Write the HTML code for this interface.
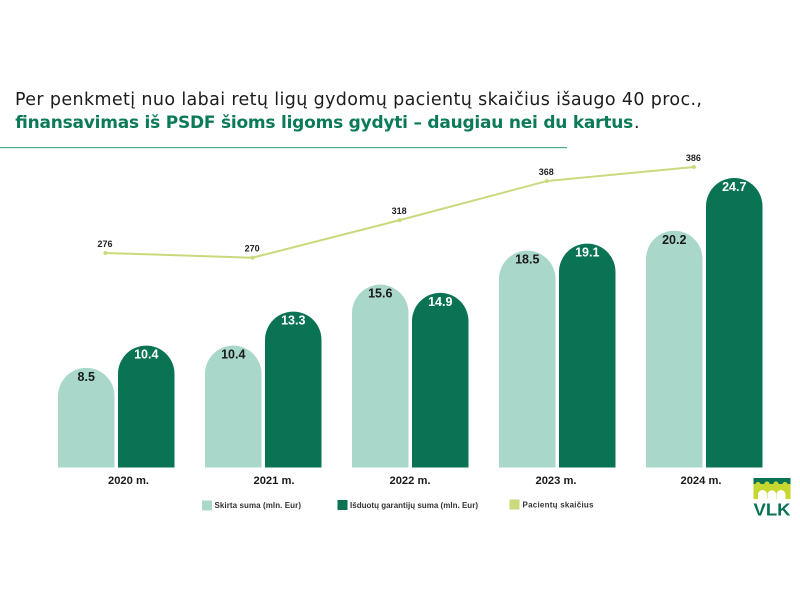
<!DOCTYPE html>
<html lang="lt">
<head>
<meta charset="utf-8">
<title>Pacientų skaičius ir finansavimas</title>
<style>
html,body{margin:0;padding:0;background:#fff;}
svg{display:block;}
text{font-family:"Liberation Sans",sans-serif;}
</style>
</head>
<body>
<svg id="chart" xmlns="http://www.w3.org/2000/svg" width="800" height="600" viewBox="0 0 800 600">
  <rect width="800" height="600" fill="#ffffff"/>
  <text x="15" y="105" font-size="17.500" textLength="687" lengthAdjust="spacing" fill="#1c1c1c" style="font-family:'DejaVu Sans',sans-serif">Per penkmetį nuo labai retų ligų gydomų pacientų skaičius išaugo 40 proc.,</text>
  <text x="15" y="128" font-size="17" font-weight="700" textLength="618" lengthAdjust="spacing" fill="#0b7a58" style="font-family:'DejaVu Sans',sans-serif">finansavimas iš PSDF šioms ligoms gydyti – daugiau nei du kartus</text>
  <text x="634" y="128" font-size="17.500" fill="#1c1c1c" style="font-family:'DejaVu Sans',sans-serif">.</text>
  <rect x="0" y="147" width="567" height="1.200" fill="#4fa98c"/>
  <g id="bars"></g>
  <g id="line"></g>
  <g id="labels"></g>
  <g>
    <rect x="202" y="500.500" width="10" height="10" fill="#a9d8cb"/>
    <text x="214.500" y="508" font-size="8" font-weight="700" textLength="86.500" lengthAdjust="spacing" fill="#333">Skirta suma (mln. Eur)</text>
    <rect x="337.500" y="500" width="10" height="10" fill="#0a7354"/>
    <text x="350" y="508" font-size="8" font-weight="700" textLength="128" lengthAdjust="spacing" fill="#333">Išduotų garantijų suma (mln. Eur)</text>
    <rect x="509.500" y="499.500" width="10" height="10" fill="#c9da7c"/>
    <text x="522.500" y="507.500" font-size="8" font-weight="700" textLength="71" lengthAdjust="spacing" fill="#333">Pacientų skaičius</text>
  </g>
  <g>
    <rect x="753.500" y="483" width="37" height="16" fill="#c6d72f"/>
    <rect x="753.500" y="478" width="37" height="6" fill="#0a7354"/>
    <circle cx="758" cy="484.500" r="2.600" fill="#c6d72f"/>
    <circle cx="767" cy="484" r="2.600" fill="#c6d72f"/>
    <circle cx="776" cy="484" r="2.600" fill="#c6d72f"/>
    <circle cx="785" cy="484.500" r="2.600" fill="#c6d72f"/>
    <path d="M758 499V494.500a4.500 4.500 0 0 1 9 0V499Z" fill="#ffffff"/>
    <path d="M767.500 499V494.500a4.300 4.300 0 0 1 8.600 0V499Z" fill="#ffffff"/>
    <path d="M776.500 499V494.500a4.500 4.500 0 0 1 9 0V499Z" fill="#ffffff"/>
    <text x="753.500" y="515.500" font-size="17.500" font-weight="700" textLength="37" lengthAdjust="spacingAndGlyphs" fill="#0a7354">VLK</text>
  </g>
</svg>
<script>
var categories = ["2020 m.", "2021 m.", "2022 m.", "2023 m.", "2024 m."];
var allocated = [8.5, 10.4, 15.6, 18.5, 20.2];
var guarantees = [10.4, 13.3, 14.9, 19.1, 24.7];
var patients = [276, 270, 318, 368, 386];

var NS = "http://www.w3.org/2000/svg";
var BASE_Y = 467.5, BAR_W = 56.5;
function xGroup(i) { return 58 + i * 147; }
function yBar(v) { return BASE_Y - v * 11.72; }
function xPoint(i) { return 105.5 + i * 147.1; }
function yPoint(v) { return 253 - (v - 276) * 0.782; }
function xCategoryLabel(i) {
  var nudge = [70.5, 69, 58, 57, 55];
  return xGroup(i) + nudge[i];
}
function make(tag, attrs, parent, text) {
  var el = document.createElementNS(NS, tag);
  for (var k in attrs) el.setAttribute(k, attrs[k]);
  if (text !== undefined) el.textContent = text;
  parent.appendChild(el);
  return el;
}
function barPath(x, top, w) {
  var r = Math.min(w / 2, BASE_Y - top);
  return "M" + x + " " + BASE_Y + "V" + (top + r) + "A" + r + " " + r + " 0 0 1 " + (x + w) + " " + (top + r) + "V" + BASE_Y + "Z";
}
var barsG = document.getElementById("bars");
var lineG = document.getElementById("line");
var labelsG = document.getElementById("labels");

categories.forEach(function (cat, i) {
  var x0 = xGroup(i), x1 = x0 + 60;
  var a = make("path", { d: barPath(x0, yBar(allocated[i]), BAR_W), fill: "#a9d8cb" }, barsG);
  
  
  var g = make("path", { d: barPath(x1, yBar(guarantees[i]), BAR_W), fill: "#0a7354" }, barsG);
  
  
  var ta = make("text", { x: x0 + BAR_W / 2, y: yBar(allocated[i]) + 13, "text-anchor": "middle", "font-size": 12.5, "font-weight": 700, fill: "#1a1a1a" }, labelsG, allocated[i].toFixed(1));
  
  
  var tg = make("text", { x: x1 + BAR_W / 2, y: yBar(guarantees[i]) + 13, "text-anchor": "middle", "font-size": 12.5, "font-weight": 700, fill: "#ffffff" }, labelsG, guarantees[i].toFixed(1));
  
  
  var tc = make("text", { x: xCategoryLabel(i), y: 484, "text-anchor": "middle", "font-size": 11.2, "font-weight": 700, fill: "#1a1a1a" }, labelsG, cat);
  
  
});

var pts = patients.map(function (v, i) { return xPoint(i) + "," + yPoint(v); }).join(" ");
var pl = make("polyline", { points: pts, fill: "none", stroke: "#c9da7c", "stroke-width": 2 }, lineG);


patients.forEach(function (v, i) {
  var c = make("circle", { cx: xPoint(i), cy: yPoint(v), r: 2, fill: "#c9da7c" }, lineG);
  
  
  var t = make("text", { x: xPoint(i) - 0.5, y: yPoint(v) - 6, "text-anchor": "middle", "font-size": 9, "font-weight": 700, fill: "#222" }, labelsG, String(v));
  
  
});
</script>
</body>
</html>
